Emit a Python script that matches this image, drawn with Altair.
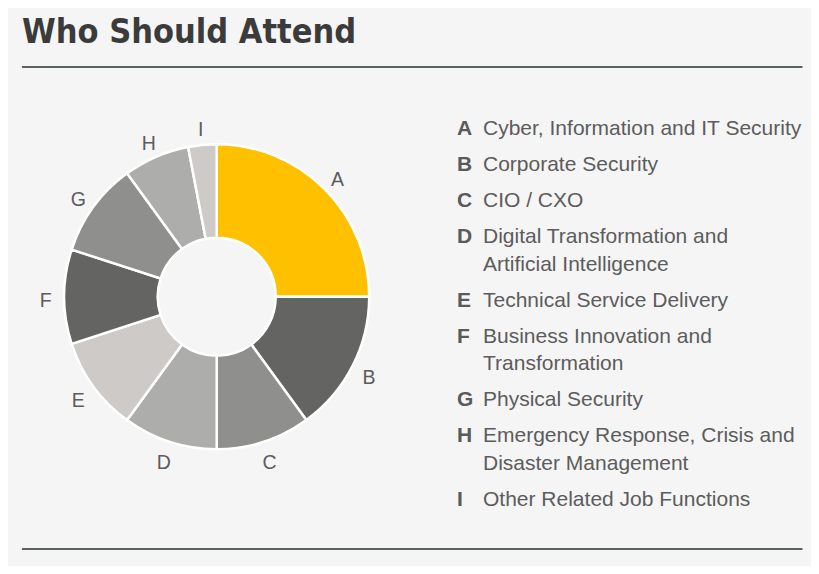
import altair as alt
import pandas as pd

# ---- data ----
letters = ["A", "B", "C", "D", "E", "F", "G", "H", "I"]
shares = [25, 15, 10, 10, 10, 10, 10, 7, 3]
descriptions = [
    "Cyber, Information and IT Security",
    "Corporate Security",
    "CIO / CXO",
    "Digital Transformation and\nArtificial Intelligence",
    "Technical Service Delivery",
    "Business Innovation and\nTransformation",
    "Physical Security",
    "Emergency Response, Crisis and\nDisaster Management",
    "Other Related Job Functions",
]
colors = ["#FFC000", "#646462", "#8F8F8D", "#ADADAB", "#CDCAC8",
          "#646462", "#8F8F8D", "#ADADAB", "#CDCAC8"]
title_text = "Who Should Attend"

# legend row positions (in line units), derived from the number of text lines
rows = []
pos = 0.0
for i, (l, s, d) in enumerate(zip(letters, shares, descriptions)):
    n_lines = len(d.split("\n"))
    rows.append({"letter": l, "share": s, "desc": d, "order": i, "row": pos})
    pos += 1 + 0.77 * (n_lines - 1)
df = pd.DataFrame(rows)

W, H = 803, 558
CX, CY = 208.7, 288.7
TEXT_FONT = "Liberation Sans, Arial, sans-serif"
TITLE_FONT = "Liberation Sans Narrow, DejaVu Sans Condensed, Arial Narrow, sans-serif"
TEXT_COLOR = "#5c5c5c"

color_scale = alt.Scale(domain=letters, range=colors)
base = alt.Chart(df).encode(
    theta=alt.Theta("share:Q", stack=True),
    order=alt.Order("order:Q"),
)

arcs = base.mark_arc(innerRadius=59, outerRadius=152.5, stroke="white", strokeWidth=2.5).encode(
    color=alt.Color("letter:N", scale=color_scale, legend=None),
    x=alt.value(CX),
    y=alt.value(CY),
)

arc_labels = base.mark_text(radius=171, fontSize=19.5, font=TEXT_FONT, color=TEXT_COLOR,
                            align="center", baseline="middle", dy=4).encode(
    text="letter:N",
    x=alt.value(CX),
    y=alt.value(CY),
)

yscale = alt.Scale(domain=[0, 12], range=[127, 127 + 12 * 36])

leg_letters = alt.Chart(df).mark_text(align="left", baseline="alphabetic", fontSize=21,
                                      fontWeight="bold", font=TEXT_FONT, color="#5a5a5a").encode(
    x=alt.value(449),
    y=alt.Y("row:Q", scale=yscale, axis=None),
    text="letter:N",
)

leg_desc = alt.Chart(df).mark_text(align="left", baseline="alphabetic", fontSize=21,
                                   font=TEXT_FONT, color=TEXT_COLOR, lineBreak="\n",
                                   lineHeight=27.7).encode(
    x=alt.value(475),
    y=alt.Y("row:Q", scale=yscale, axis=None),
    text="desc:N",
)

title = alt.Chart(pd.DataFrame({"t": [title_text]})).mark_text(
    align="left", baseline="alphabetic", fontSize=34, fontWeight="bold",
    font=TITLE_FONT, color="#3b3b3b").encode(
    x=alt.value(14), y=alt.value(35), text="t:N")

rule_top = alt.Chart(pd.DataFrame({"a": [0]})).mark_rule(color="#5b6262", strokeWidth=2.2).encode(
    x=alt.value(14), x2=alt.value(794.5), y=alt.value(59))
rule_bot = alt.Chart(pd.DataFrame({"a": [0]})).mark_rule(color="#5b6262", strokeWidth=2.2).encode(
    x=alt.value(14), x2=alt.value(794.5), y=alt.value(541))

chart = alt.layer(arcs, arc_labels, leg_letters, leg_desc, title, rule_top, rule_bot).properties(
    width=W, height=H, autosize="none", padding=0, background="#f5f5f5"
).configure_view(stroke=None)

chart.save("out.html", embed_options={"renderer": "svg", "actions": False})
